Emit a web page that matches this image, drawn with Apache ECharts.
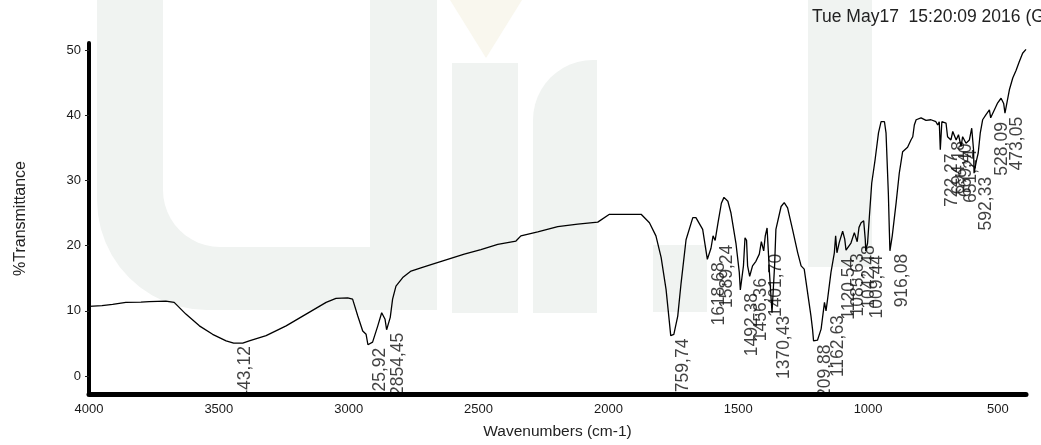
<!DOCTYPE html>
<html lang="en">

<head>
  <meta charset="UTF-8">
  <script src="https://cdn.jsdelivr.net/npm/echarts@6/dist/echarts.min.js"></script>
  <title>FTIR</title>
</head>
<style>
  html,
  body {
    margin: 0;
    padding: 0;
    background: #fff;
    overflow: hidden;
  }

  #chart {
    width: 1041px;
    height: 445px;
  }
</style>

<body>
  <div id="chart"></div>
</body>
<script>
  // spectrum, wavenumber (cm-1) -> %T
  var wavenumber = [4000, 3950, 3909, 3858, 3800, 3768, 3704, 3672, 3627, 3575, 3524, 3472, 3443, 3408, 3383, 3318,
    3241, 3164, 3087, 3049, 3004, 2985, 2965, 2946, 2933, 2926, 2908, 2888, 2873, 2860, 2854, 2840, 2831, 2818, 2792,
    2760, 2722, 2683, 2619, 2555, 2491, 2426, 2356, 2337, 2272, 2195, 2118, 2041, 1996, 1874, 1842, 1817, 1797, 1778,
    1765, 1760, 1748, 1733, 1720, 1701, 1675, 1663, 1637, 1619, 1605, 1597, 1589, 1578, 1565, 1555, 1540, 1528, 1509,
    1496, 1492, 1480, 1474, 1468, 1464, 1456, 1445, 1432, 1419, 1411, 1402, 1396, 1389, 1380, 1370, 1360, 1355, 1335,
    1323, 1310, 1291, 1271, 1258, 1246, 1233, 1220, 1214, 1210, 1195, 1181, 1168, 1162, 1156, 1143, 1130, 1125, 1120,
    1111, 1098, 1090, 1085, 1066, 1053, 1047, 1042, 1035, 1027, 1017, 1011, 1009, 1002, 995, 986, 973, 960, 950, 937,
    931, 922, 918, 916, 907, 892, 880, 867, 848, 835, 828, 822, 815, 809, 796, 777, 758, 751, 739, 732, 726, 722, 716,
    700, 694, 681, 674, 661, 652, 642, 636, 623, 610, 601, 594, 592, 583, 576, 568, 559, 546, 533, 528, 514, 501, 488,
    478, 473, 466, 456, 443, 430, 418, 405, 392];
  var transmittance = [10.7, 10.8, 11.0, 11.3, 11.35, 11.4, 11.5, 11.3, 9.5, 7.7, 6.4, 5.4, 5.05, 5.05, 5.4, 6.2,
    7.7, 9.5, 11.3, 11.9, 12.0, 11.8, 9.2, 6.9, 6.4, 4.8, 5.2, 7.7, 9.7, 8.7, 7.1, 9.0, 11.8, 13.8, 15.1,
    16.1, 16.6, 17.1, 17.9, 18.7, 19.4, 20.2, 20.7, 21.5, 22.1, 22.9, 23.3, 23.6, 24.8, 24.8, 23.5, 21.5, 18.2, 13.3,
    8.2, 6.2, 6.4, 9.2, 14.3, 20.9, 24.3, 24.3, 22.5, 17.9, 19.6, 21.5, 20.8, 23.5, 26.5, 27.4, 26.8, 25.0, 20.4,
    15.9, 13.2, 16.9, 21.2, 20.8, 16.9, 15.3, 16.9, 17.6, 18.7, 20.6, 19.2, 21.5, 22.7, 16.0, 9.7, 17.0, 22.5, 26.0,
    26.6, 25.8, 22.5, 18.9, 16.9, 16.4, 12.8, 9.2, 7.2, 5.4, 5.5, 7.2, 11.3, 10.0, 11.8, 15.9, 18.9, 21.5, 18.9,
    20.5, 22.2, 21.0, 19.3, 20.4, 22.0, 22.3, 20.6, 22.8, 23.5, 23.8, 21.0, 19.2, 20.4, 24.5, 29.6, 33.2, 37.3, 39.0, 39.0,
    37.3, 28.0, 22.0, 19.2, 21.5, 26.6, 31.1, 34.4, 35.1, 36.2, 36.7, 38.5, 39.3, 39.4, 39.6, 39.2, 39.3, 39.4, 39.0, 38.5, 39.0, 34.7, 39.0,
    38.8, 36.7, 36.2, 37.5, 36.2, 37.0, 35.2, 36.7, 35.7, 36.2, 38.0, 34.7, 31.1, 33.0, 34.2, 37.3, 39.3, 40.1, 40.8, 39.6, 40.8, 41.9, 42.6,
    41.8, 40.3, 40.6, 43.9, 45.7, 46.9, 48.2, 49.5, 50.1];

  // peak picks
  var peakLabel = ['3443,12', '2925,92', '2854,45', '1759,74', '1618,68', '1589,24', '1492,38', '1456,36', '1401,70',
    '1370,43', '1209,88', '1162,63', '1120,54', '1085,63', '1042,48', '1009,44', '916,08', '722,27', '694,18', '669,40',
    '651,24', '592,33', '528,09', '473,05'];
  var peakT = [5.05, 4.8, 7.1, 6.2, 17.9, 20.6, 13.2, 15.5, 19.2, 9.7, 5.3, 9.8, 18.6, 19.3, 20.5, 19.0, 19.2, 34.6,
    36.5, 36.1, 35.2, 31.0, 39.4, 40.2];

  var xTicks = [4000, 3500, 3000, 2500, 2000, 1500, 1000, 500];
  var yTicks = [0, 10, 20, 30, 40, 50];

  var fontFamily = 'Liberation Sans, Arial, sans-serif';
  var wm = '#f0f3f1';

  var lineData = wavenumber.map(function (w, i) { return [w, transmittance[i]]; });
  var peakData = peakLabel.map(function (s, i) { return [parseFloat(s.replace(',', '.')), peakT[i]]; });

  // points along a circular corner, for the watermark outline
  function arc(cx, cy, r, a0, a1) {
    var pts = [];
    for (var k = 0; k <= 12; k++) {
      var a = (a0 + (a1 - a0) * k / 12) * Math.PI / 180;
      pts.push([cx + r * Math.cos(a), cy + r * Math.sin(a)]);
    }
    return pts;
  }

  var uShape = [[97, 0]].concat(arc(207, 200, 110, 180, 90), [[437, 310], [437, 0], [370, 0], [370, 247]],
    arc(220, 190, 57, 90, 180), [[163, 0]]);
  var nLeg = [[533, 313]].concat(arc(593, 120, 60, 180, 270), [[597, 60], [597, 313]]);

  var chart = echarts.init(document.getElementById('chart'), null, { renderer: 'canvas' });

  chart.setOption({
    animation: false,
    backgroundColor: '#fff',
    grid: { left: 89, right: 15, top: 43, bottom: 50 },
    xAxis: {
      type: 'value',
      inverse: true,
      min: 392,
      max: 4000,
      z: 10,
      name: 'Wavenumbers (cm-1)',
      nameLocation: 'middle',
      nameGap: 30,
      nameTextStyle: { fontSize: 15.5, color: '#222', fontFamily: fontFamily },
      axisLine: { onZero: false, lineStyle: { color: '#000', width: 5 } },
      axisTick: { show: false },
      splitLine: { show: false },
      axisLabel: {
        customValues: xTicks, fontSize: 13, color: '#1a1a1a', margin: 9, fontFamily: fontFamily,
        formatter: function (v) { return String(v); }
      }
    },
    yAxis: {
      type: 'value',
      min: -2.75,
      max: 51.07,
      z: 10,
      name: '%Transmittance',
      nameLocation: 'middle',
      nameRotate: 90,
      nameGap: 60,
      nameTextStyle: { fontSize: 16, color: '#222', fontFamily: fontFamily },
      axisLine: { onZero: false, lineStyle: { color: '#000', width: 4 } },
      axisTick: { customValues: yTicks, length: 4, lineStyle: { color: '#222' } },
      splitLine: { show: false },
      axisLabel: {
        customValues: yTicks, fontSize: 13, color: '#1a1a1a', margin: 8, fontFamily: fontFamily,
        formatter: function (v) { return String(v); }
      }
    },
    graphic: [
      // faint watermark behind the plot
      { type: 'polygon', z: -10, silent: true, shape: { points: uShape }, style: { fill: wm } },
      { type: 'rect', z: -10, silent: true, shape: { x: 452, y: 63, width: 66, height: 250 }, style: { fill: wm } },
      { type: 'polygon', z: -10, silent: true, shape: { points: [[450, 0], [522, 0], [486, 58]] }, style: { fill: '#f9f7ee' } },
      { type: 'polygon', z: -10, silent: true, shape: { points: nLeg }, style: { fill: wm } },
      { type: 'rect', z: -10, silent: true, shape: { x: 653, y: 245, width: 54, height: 67 }, style: { fill: wm } },
      { type: 'rect', z: -10, silent: true, shape: { x: 808, y: 0, width: 64, height: 267 }, style: { fill: wm } },
      // hides the peak labels below the axis line
      { type: 'rect', z: 5, silent: true, shape: { x: 92, y: 396, width: 949, height: 15 }, style: { fill: '#fff' } },
      {
        type: 'text', left: 812, top: 8, silent: true,
        style: { text: 'Tue May17  15:20:09 2016 (GMT', fill: '#222', font: '17.5px ' + fontFamily }
      }
    ],
    series: [{
      type: 'line',
      data: lineData,
      showSymbol: false,
      silent: true,
      lineStyle: { color: '#000', width: 1.3 }
    }, {
      type: 'scatter',
      data: peakData,
      symbolSize: 0,
      silent: true,
      label: {
        show: true,
        position: 'inside',
        rotate: 90,
        align: 'right',
        verticalAlign: 'middle',
        offset: [-3, 12],
        fontSize: 17.5,
        color: '#111',
        fontFamily: fontFamily,
        formatter: function (p) { return peakLabel[p.dataIndex]; }
      }
    }]
  });
</script>

</html>
